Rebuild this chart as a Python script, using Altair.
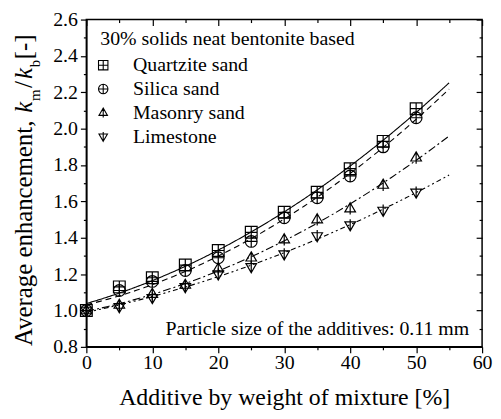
import altair as alt
import pandas as pd

# ---- data ----
pct = [0, 5, 10, 15, 20, 25, 30, 35, 40, 45, 50]
quartzite = [1.00, 1.13, 1.18, 1.25, 1.33, 1.43, 1.54, 1.65, 1.78, 1.93, 2.11]
silica = [1.00, 1.11, 1.16, 1.22, 1.29, 1.38, 1.51, 1.62, 1.74, 1.90, 2.06]
masonry = [1.00, 1.03, 1.09, 1.14, 1.23, 1.29, 1.39, 1.50, 1.56, 1.69, 1.84]
limestone = [1.00, 1.02, 1.07, 1.13, 1.20, 1.24, 1.31, 1.41, 1.47, 1.55, 1.65]
series_names = ["Quartzite sand", "Silica sand", "Masonry sand", "Limestone"]
x_ticks = [0, 5, 10, 15, 20, 25, 30, 35, 40, 45, 50, 55, 60]
y_ticks = [round(0.8 + 0.1 * i, 1) for i in range(19)]

rows = []
for name, vals in zip(series_names, [quartzite, silica, masonry, limestone]):
    for p, v in zip(pct, vals):
        rows.append({"series": name, "pct": p, "val": v})
df = pd.DataFrame(rows)

shape_paths = [
    "M-1,-1H1V1H-1Z M0,-1V1 M-1,0H1",
    "M-1,0A1,1,0,1,1,1,0A1,1,0,1,1,-1,0Z M0,-1V1 M-1,0H1",
    "M0,-1L0.9,0.55H-0.9Z M0,-1V1 M-1,0.55H1",
    "M0,1L0.9,-0.55H-0.9Z M0,-1V1 M-1,-0.55H1",
]
dashes = [[1, 0], [6, 4], [8, 3, 2, 3], [5, 3, 2, 3, 2, 3]]

FONT = "Times New Roman, Liberation Serif, serif"
W, H = 399, 330

xscale = alt.Scale(domain=[0, 60], nice=False, zero=False)
yscale = alt.Scale(domain=[0.8, 2.6], nice=False, zero=False)

x_major = "datum.value % 10 === 0"
y_major = "abs(datum.value*5 - round(datum.value*5)) < 0.001"

x_axis = alt.Axis(
    orient="bottom", values=x_ticks, labelExpr=f"{x_major} ? datum.label : ''", format="d",
    tickSize={"condition": {"test": x_major, "value": 6}, "value": 3},
    title="Additive by weight of mixture [%]", titleFont=FONT, titleFontSize=24,
    titleFontWeight="normal", titleColor="black", titlePadding=13,
    labelFont=FONT, labelFontSize=20, labelColor="black",
    labelPadding=0, labelFlush=False, labelOverlap=False, grid=False,
)
y_axis = alt.Axis(
    orient="left", values=y_ticks, labelExpr=f"{y_major} ? format(datum.value, '.1f') : ''",
    tickSize={"condition": {"test": y_major, "value": 6}, "value": 3},
    labelFont=FONT, labelFontSize=20, labelColor="black",
    title="", labelPadding=3, labelFlush=False, labelOverlap=False, grid=False,
)
x_axis_in = alt.Axis(
    orient="bottom", offset=-H, values=x_ticks, labels=False, domain=False,
    tickSize={"condition": {"test": x_major, "value": 6}, "value": 3},
    title="", grid=False,
)
y_axis_in = alt.Axis(
    orient="left", offset=-W, values=y_ticks, labels=False, domain=False,
    tickSize={"condition": {"test": y_major, "value": 6}, "value": 3},
    title="", grid=False,
)

fit_layers = []
for i, (name, dash) in enumerate(zip(series_names, dashes)):
    fit_layers.append(
        alt.Chart(df).transform_filter(alt.datum.series == name).transform_regression(
            "pct", "val", method="poly", order=2, extent=[0, 55]
        ).mark_line(color="black", strokeWidth=1.1, strokeDash=dash).encode(
            x=alt.X("pct:Q", scale=xscale, axis=x_axis_in if i == 0 else None),
            y=alt.Y("val:Q", scale=yscale, axis=y_axis_in if i == 0 else None),
        )
    )

points = alt.Chart(df).mark_point(
    filled=False, color="black", size=140, strokeWidth=1.2, opacity=1
).encode(
    x=alt.X("pct:Q", scale=xscale, axis=x_axis),
    y=alt.Y("val:Q", scale=yscale, axis=y_axis),
    shape=alt.Shape(
        "series:N",
        scale=alt.Scale(domain=series_names, range=shape_paths),
        legend=alt.Legend(
            title="30% solids neat bentonite based", orient="none", legendX=14, legendY=10,
            titleFont=FONT, titleFontSize=20, titleFontWeight="normal", titleColor="black",
            titlePadding=6, titleLimit=400,
            labelFont=FONT, labelFontSize=20, labelColor="black", labelLimit=300, labelOffset=20,
            symbolSize=90, symbolStrokeColor="black", symbolStrokeWidth=1.1, symbolOffset=-7,
            rowPadding=4,
        ),
    ),
)

one = pd.DataFrame({"a": [0]})


def txt(s, x, y, size, style="normal", angle=270, align="left"):
    return alt.Chart(one).mark_text(
        text=s, angle=angle, align=align, baseline="alphabetic", font=FONT,
        fontSize=size, fontStyle=style, color="black",
    ).encode(x=alt.value(x), y=alt.value(y))


ytitle = [
    txt("Average enhancement,", -55, 329, 25),
    txt("k", -55, 94, 25, "italic"),
    txt("m", -47, 82, 15),
    txt("/", -55, 69, 25),
    txt("k", -55, 60, 25, "italic"),
    txt("b", -47, 48, 15),
    txt("[-]", -55, 40, 25),
]
note = txt("Particle size of the additives: 0.11 mm", 386, 318, 20, angle=0, align="right")

chart = alt.layer(*fit_layers, points, note, *ytitle).resolve_axis(
    x="independent", y="independent"
).properties(
    width=W, height=H,
    autosize=alt.AutoSizeParams(type="none"),
    padding={"left": 79, "top": 10, "right": 11, "bottom": 63},
).configure_view(
    stroke="black", strokeWidth=1.5
).configure_axis(
    domainColor="black", domainWidth=1.5, tickColor="black", tickWidth=1.2,
    labelFont=FONT, labelFontSize=20, labelColor="black",
).configure_legend(
    labelFont=FONT, titleFont=FONT
).configure_text(
    font=FONT
)

chart.save("out.html", embed_options={"renderer": "svg", "actions": False})
